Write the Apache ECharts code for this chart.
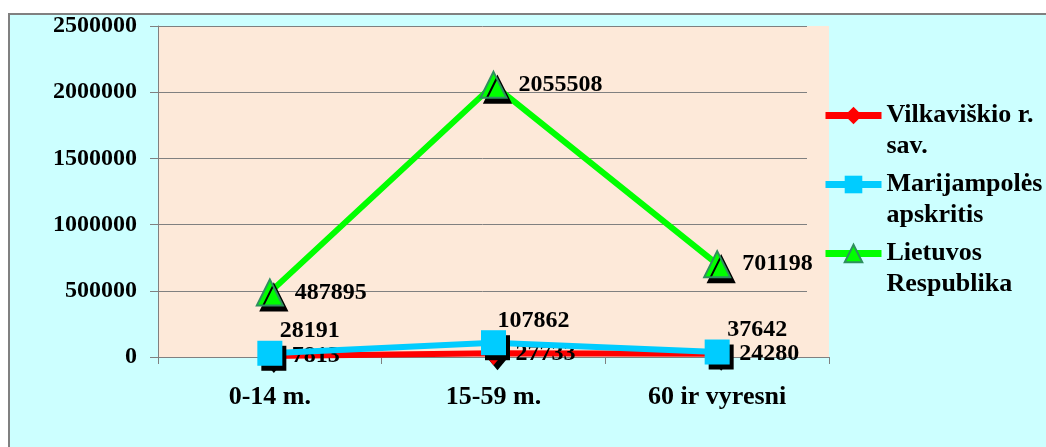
<!DOCTYPE html>
<html>
<head>
<meta charset="utf-8">
<script src="https://cdn.jsdelivr.net/npm/echarts@6/dist/echarts.min.js"></script>
<style>
  html, body { margin: 0; padding: 0; background: #ffffff; overflow: hidden; width: 1046px; height: 447px; }
  #frame { position: absolute; left: 8px; top: 13px; width: 1100px; height: 500px;
           background: #ccffff; border-top: 2px solid #808080; border-left: 2px solid #808080; }
  #chart { position: absolute; left: 0; top: 0; width: 1046px; height: 447px; }
</style>
</head>
<body>
<div id="frame"></div>
<div id="chart"></div>
<script>
// Age groups and population counts
const categories = ['0-14 m.', '15-59 m.', '60 ir vyresni'];
const vilkaviskio = [7813, 27733, 24280];
const marijampoles = [28191, 107862, 37642];
const lietuvos = [487895, 2055508, 701198];
const yTicks = [0, 500000, 1000000, 1500000, 2000000, 2500000];

const seriesNames = ['Vilkaviškio r. sav.', 'Marijampolės apskritis', 'Lietuvos Respublika'];
// Legend entries wrap onto two lines; a leading blank line keeps the first
// line level with the legend symbol.
const legendText = {
  'Vilkaviškio r. sav.': ' \nVilkaviškio r.\nsav.',
  'Marijampolės apskritis': ' \nMarijampolės\napskritis',
  'Lietuvos Respublika': ' \nLietuvos\nRespublika'
};

const FONT = "'Liberation Serif', 'Times New Roman', serif";
const GRAY = '#808080';
const yMin = yTicks[0];
const yMax = yTicks[yTicks.length - 1];
const yStep = yTicks[1] - yTicks[0];

const markerShadow = { shadowColor: '#000000', shadowOffsetX: 4, shadowOffsetY: 5, shadowBlur: 0 };
const valueLabel = { show: true, color: '#000000', fontFamily: FONT, fontWeight: 'bold', fontSize: 24, textBorderWidth: 0 };

const chart = echarts.init(document.getElementById('chart'), null, { renderer: 'canvas' });

chart.setOption({
  backgroundColor: 'transparent',
  animation: false,
  grid: [
    { left: 158, right: 217, top: 26, bottom: 90, show: true, backgroundColor: '#fde9d9', borderWidth: 0 },
    // horizontal rules stop a little short of the plot's right edge
    { left: 158, right: 239, top: 26, bottom: 90, show: false }
  ],
  legend: {
    orient: 'vertical',
    left: 822,
    top: 69,
    padding: 0,
    itemGap: -24,
    itemWidth: 56,
    itemHeight: 22,
    selectedMode: false,
    data: seriesNames,
    formatter: name => legendText[name],
    textStyle: { fontFamily: FONT, fontWeight: 'bold', fontSize: 26, lineHeight: 31, color: '#000000' },
    lineStyle: { width: 7 },
    itemStyle: { shadowBlur: 0, shadowOffsetX: 0, shadowOffsetY: 0, shadowColor: 'rgba(0,0,0,0)' }
  },
  xAxis: [
    {
      type: 'category',
      gridIndex: 0,
      data: categories,
      boundaryGap: true,
      axisLine: { show: true, lineStyle: { color: GRAY, width: 1 } },
      axisTick: { show: true, length: 7, inside: false, alignWithLabel: false, lineStyle: { color: GRAY } },
      axisLabel: { interval: 0, margin: 27, color: '#000000', fontFamily: FONT, fontWeight: 'bold', fontSize: 26 },
      splitLine: { show: false }
    },
    { type: 'category', gridIndex: 1, data: categories, show: false }
  ],
  yAxis: [
    {
      type: 'value',
      gridIndex: 0,
      min: yMin,
      max: yMax,
      interval: yStep,
      axisLine: { show: true, lineStyle: { color: GRAY, width: 1 } },
      axisTick: { show: true, length: 8, inside: false, lineStyle: { color: GRAY } },
      axisLabel: { margin: 21, color: '#000000', fontFamily: FONT, fontWeight: 'bold', fontSize: 24,
                   formatter: v => String(v) },
      splitLine: { show: false }
    },
    {
      type: 'value',
      gridIndex: 1,
      min: yMin,
      max: yMax,
      interval: yStep,
      axisLine: { show: false },
      axisTick: { show: false },
      axisLabel: { show: false },
      splitLine: { show: true, lineStyle: { color: GRAY, width: 1 } }
    }
  ],
  series: [
    {
      name: seriesNames[0],
      type: 'line',
      data: vilkaviskio,
      symbol: 'diamond',
      symbolSize: [20, 24],
      showAllSymbol: true,
      lineStyle: { color: '#ff0000', width: 6 },
      itemStyle: Object.assign({ color: '#ff0000' }, markerShadow),
      label: Object.assign({ position: 'right', distance: 12 }, valueLabel),
      z: 2
    },
    {
      name: seriesNames[1],
      type: 'line',
      data: marijampoles,
      symbol: 'rect',
      symbolSize: 25,
      showAllSymbol: true,
      lineStyle: { color: '#00ccff', width: 6 },
      itemStyle: Object.assign({ color: '#00ccff' }, markerShadow),
      label: Object.assign({ position: 'inside', offset: [40, -22] }, valueLabel),
      z: 3
    },
    {
      name: seriesNames[2],
      type: 'line',
      data: lietuvos,
      symbol: 'triangle',
      symbolSize: 26,
      showAllSymbol: true,
      lineStyle: { color: '#00ff00', width: 6 },
      itemStyle: Object.assign({ color: '#00ff00', borderColor: '#2f8f5f', borderWidth: 2 }, markerShadow),
      label: Object.assign({ position: 'right', distance: 11 }, valueLabel),
      z: 4
    }
  ]
});
</script>
</body>
</html>
